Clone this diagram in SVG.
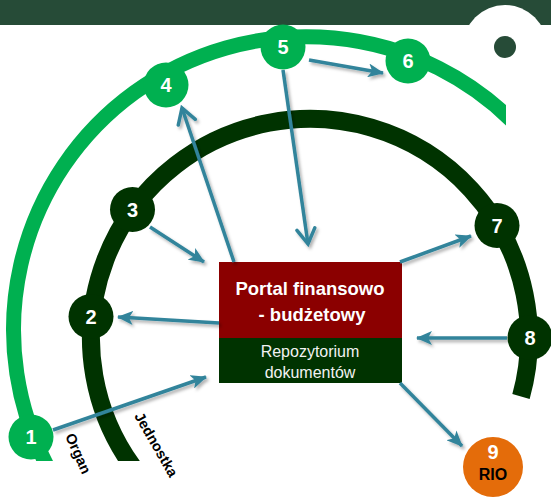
<svg xmlns="http://www.w3.org/2000/svg" width="551" height="497" viewBox="0 0 551 497">
<style>
.num{font-family:"Liberation Sans",Arial,sans-serif;font-weight:bold;font-size:20px;fill:#fff;text-anchor:middle}
.lbl{font-family:"Liberation Sans",Arial,sans-serif;font-weight:bold;font-size:14.5px;fill:#000}
.arr{stroke:#31849B;stroke-width:3.5;fill:none;filter:url(#sh)}
.st{marker-end:url(#stealth)}
.op{marker-end:url(#open)}
.g{fill:#00B050}
.d{fill:#003300}
</style>
<defs>
<filter id="sh" filterUnits="userSpaceOnUse" x="0" y="0" width="551" height="497">
<feDropShadow dx="2" dy="2.5" stdDeviation="1.5" flood-color="#000" flood-opacity="0.3"/>
</filter>
<marker id="stealth" markerUnits="userSpaceOnUse" markerWidth="16" markerHeight="14" viewBox="0 0 16 14" refX="15" refY="7" orient="auto">
<path d="M0,0 L16,7 L0,14 L4,7 z" fill="#31849B"/>
</marker>
<marker id="open" markerUnits="userSpaceOnUse" markerWidth="20" markerHeight="22" viewBox="0 0 20 22" refX="17" refY="11" orient="auto">
<path d="M2,2 L17,11 L2,20" fill="none" stroke="#31849B" stroke-width="3.5" stroke-linecap="round"/>
</marker>
<clipPath id="clipOuter"><rect x="0" y="0" width="506" height="461"/></clipPath>
<clipPath id="clipInner"><rect x="0" y="0" width="551" height="461"/></clipPath>
</defs>

<g id="header">
<rect x="0" y="0" width="551" height="25" fill="#264B37"/>
<circle cx="505" cy="47" r="42" fill="#fff"/>
<circle cx="505" cy="47" r="11" fill="#264B37"/>
</g>

<g id="arcs">
<path id="arc-organ" d="M49.3,470 A293,293 0 0 1 520,129" fill="none" stroke="#00B050" stroke-width="15" clip-path="url(#clipOuter)"/>
<path id="arc-jednostka" d="M135.3,470 A219,219 0 1 1 521,396.5" fill="none" stroke="#003300" stroke-width="18" clip-path="url(#clipInner)"/>
</g>

<g id="box">
<rect x="219" y="262" width="183" height="76" fill="#8B0000"/>
<rect x="219" y="338" width="183" height="45" fill="#003300"/>
<text x="310" y="295" font-family="'Liberation Sans',Arial,sans-serif" font-weight="bold" font-size="18.5" fill="#fff" text-anchor="middle">Portal finansowo</text>
<text x="312" y="321" font-family="'Liberation Sans',Arial,sans-serif" font-weight="bold" font-size="18.5" fill="#fff" text-anchor="middle">- budżetowy</text>
<text x="310" y="357" font-family="'Liberation Sans',Arial,sans-serif" font-size="16" fill="#F2F2F2" text-anchor="middle">Repozytorium</text>
<text x="310" y="378" font-family="'Liberation Sans',Arial,sans-serif" font-size="16" fill="#F2F2F2" text-anchor="middle">dokumentów</text>
</g>

<g id="connectors">
<line class="arr st" x1="53" y1="430" x2="206" y2="377"/>
<line class="arr st" x1="219" y1="323" x2="118" y2="317"/>
<line class="arr st" x1="150" y1="227" x2="204" y2="262"/>
<line class="arr op" x1="234" y1="262" x2="182" y2="108"/>
<line class="arr op" x1="283" y1="70" x2="308" y2="244"/>
<line class="arr st" x1="309" y1="60" x2="383" y2="73"/>
<line class="arr st" x1="400" y1="262" x2="471" y2="236"/>
<line class="arr st" x1="507" y1="338" x2="417" y2="338"/>
<line class="arr st" x1="400" y1="383" x2="462" y2="446"/>
</g>

<g id="node1"><circle cx="31" cy="437" r="22.5" class="g"/><text x="31" y="444" class="num">1</text></g>
<g id="node2"><circle cx="91" cy="316.5" r="22.5" class="d"/><text x="91" y="323.5" class="num">2</text></g>
<g id="node3"><circle cx="132.5" cy="209.5" r="22.5" class="d"/><text x="132.5" y="216.5" class="num">3</text></g>
<g id="node4"><circle cx="166" cy="85" r="22.5" class="g"/><text x="166" y="92" class="num">4</text></g>
<g id="node5"><circle cx="283" cy="47" r="22.5" class="g"/><text x="283" y="54" class="num">5</text></g>
<g id="node6"><circle cx="408" cy="61" r="22.5" class="g"/><text x="408" y="68" class="num">6</text></g>
<g id="node7"><circle cx="497" cy="225.5" r="22.5" class="d"/><text x="497" y="232.5" class="num">7</text></g>
<g id="node8"><circle cx="530" cy="337.5" r="22.5" class="d"/><text x="530" y="344.5" class="num">8</text></g>
<g id="node9"><circle cx="493" cy="467" r="30" fill="#E46C0A"/><text x="493" y="459" class="num">9</text><text x="493" y="480" font-family="'Liberation Sans',Arial,sans-serif" font-weight="bold" font-size="16" fill="#000" text-anchor="middle">RIO</text></g>

<g id="labels">
<text class="lbl" transform="translate(65,436) rotate(66)">Organ</text>
<text class="lbl" transform="translate(134,416) rotate(60)">Jednostka</text>
</g>
</svg>
